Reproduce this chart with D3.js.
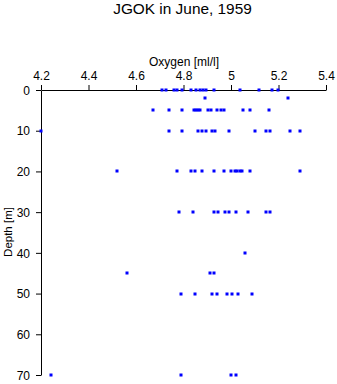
<!DOCTYPE html>
<html><head><meta charset="utf-8">
<script src="https://cdn.jsdelivr.net/npm/d3@7"></script>
<style>body{margin:0;background:#fff}svg{display:block}</style>
</head><body>
<script>
const title = "JGOK in June, 1959";
const xLabel = "Oxygen [ml/l]";
const yLabel = "Depth [m]";
const xTicks = [4.2, 4.4, 4.6, 4.8, 5.0, 5.2, 5.4];
const yTicks = [0, 10, 20, 30, 40, 50, 60, 70];
const depths = [0, 2, 5, 10, 20, 30, 40, 45, 50, 70];
const oxygen0 = [4.709, 4.726, 4.76, 4.773, 4.792, 4.832, 4.851, 4.869, 4.882, 4.895, 4.93, 5.039, 5.119, 5.171, 5.199];
const oxygen2 = [4.892, 5.241];
const oxygen5 = [4.673, 4.74, 4.792, 4.843, 4.853, 4.861, 4.871, 4.902, 4.916, 4.942, 4.958, 4.971, 5.052, 5.081, 5.161];
const oxygen10 = [4.2, 4.741, 4.792, 4.861, 4.878, 4.895, 4.92, 4.933, 4.99, 5.101, 5.149, 5.164, 5.25, 5.29];
const oxygen20 = [4.521, 4.771, 4.832, 4.85, 4.879, 4.93, 4.972, 5.0, 5.015, 5.027, 5.038, 5.046, 5.081, 5.292];
const oxygen30 = [4.78, 4.841, 4.928, 4.945, 4.975, 4.99, 5.021, 5.07, 5.147, 5.164];
const oxygen40 = [5.06];
const oxygen45 = [4.561, 4.91, 4.93];
const oxygen50 = [4.791, 4.85, 4.921, 4.942, 4.985, 5.004, 5.031, 5.09];
const oxygen70 = [4.243, 4.791, 5.001, 5.022];
const series = [oxygen0, oxygen2, oxygen5, oxygen10, oxygen20, oxygen30, oxygen40, oxygen45, oxygen50, oxygen70];

const W = 337, H = 384;
const svg = d3.select("body").append("svg").attr("width", W).attr("height", H)
  .style("font-family", "'Liberation Sans', Arial, sans-serif");

const x = d3.scaleLinear().domain([4.2, 5.4]).range([41, 326]);
const y = d3.scaleLinear().domain([0, 70]).range([90, 375]);

const xAxis = svg.append("g").attr("transform", `translate(0,${y(0)})`)
  .call(d3.axisTop(x).tickValues(xTicks).tickSize(5).tickSizeOuter(0).tickFormat(d3.format("~g")));
const yAxis = svg.append("g").attr("transform", `translate(${x(4.2)},0)`)
  .call(d3.axisLeft(y).tickValues(yTicks).tickSize(5).tickSizeOuter(0));
[xAxis, yAxis].forEach(g => {
  g.selectAll("path, line").attr("stroke", "#000").attr("stroke-width", 1);
  g.selectAll("text").attr("fill", "#000").style("font-size", "12px")
   .style("font-family", "'Liberation Sans', Arial, sans-serif");
});
xAxis.selectAll("text").attr("dy", "-0.2em");
yAxis.selectAll("text").attr("x", -11).attr("dy", "0.35em");

const pts = [];
series.forEach((arr, i) => arr.forEach(v => pts.push({v, d: depths[i]})));
svg.append("g").selectAll("rect").data(pts).join("rect")
  .attr("x", p => Math.round(x(p.v)) - 1.5)
  .attr("y", p => Math.round(y(p.d)) - 1.5)
  .attr("width", 3).attr("height", 3).attr("fill", "#0000ff");

svg.append("text").attr("x", 182.5).attr("y", 14).attr("text-anchor", "middle")
  .style("font-size", "15.4px").text(title);
svg.append("text").attr("x", 184).attr("y", 66).attr("text-anchor", "middle")
  .style("font-size", "12px").text(xLabel);
svg.append("text").attr("transform", "translate(12,232) rotate(-90)").attr("text-anchor", "middle")
  .style("font-size", "11.5px").text(yLabel);
</script>
</body></html>
